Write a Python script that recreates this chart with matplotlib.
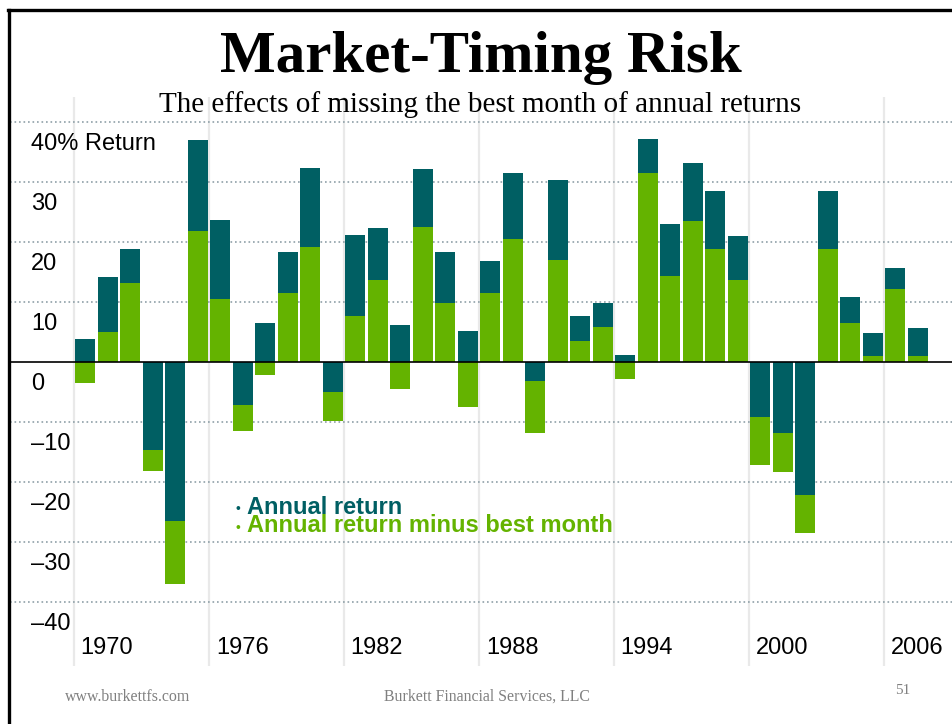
import matplotlib
matplotlib.use("Agg")
import matplotlib.pyplot as plt
import numpy as np
from matplotlib.lines import Line2D

# ---- data ----
years = list(range(1970, 2008))
annual_return = [3.9, 14.2, 18.9, -14.7, -26.4, 37.1, 23.7, -7.1, 6.6, 18.4,
                 32.4, -4.9, 21.2, 22.4, 6.2, 32.2, 18.4, 5.2, 16.9, 31.6,
                 -3.1, 30.4, 7.7, 9.9, 1.2, 37.2, 23.1, 33.2, 28.6, 21.1,
                 -9.1, -11.8, -22.1, 28.6, 10.9, 4.9, 15.7, 5.7]
minus_best_month = [-3.4, 5.1, 13.2, -18.1, -36.9, 21.9, 10.6, -11.4, -2.1, 11.6,
                    19.2, -9.8, 7.7, 13.7, -4.4, 22.6, 9.9, -7.4, 11.6, 20.6,
                    -11.8, 17.1, 3.6, 5.9, -2.8, 31.6, 14.4, 23.6, 18.9, 13.7,
                    -17.1, -18.3, -28.4, 18.9, 6.6, 1.1, 12.2, 1.1]
year_labels = [1970, 1976, 1982, 1988, 1994, 2000, 2006]
y_grid = [40, 30, 20, 10, -10, -20, -30, -40]
y_labels = ["40% Return", "30", "20", "10", "0", "\u201310", "\u201320", "\u201330", "\u201340"]
y_label_vals = [40, 30, 20, 10, 0, -10, -20, -30, -40]

TEAL = "#005F63"
GREEN = "#64B300"

W, H = 953, 724
fig = plt.figure(figsize=(W / 100, H / 100), dpi=100)
ax = fig.add_axes([0, 0, 1, 1])

# pixel mapping: year 1970 center at x=85, 22.5 px per year; value 0 at y=362.3, 6 px per unit
px_per_year = 22.5
x0_year = 1970 - 85 / px_per_year
x1_year = 1970 + (W - 85) / px_per_year
y_top = 362.3 / 6
y_bot = -(H - 362.3) / 6
ax.set_xlim(x0_year, x1_year)
ax.set_ylim(y_bot, y_top)
ax.axis("off")

def xpix(px):
    return 1970 + (px - 85) / px_per_year

def ypix(py):
    return (362.3 - py) / 6

# vertical light gray lines
for yl in year_labels:
    ax.plot([yl - 0.5, yl - 0.5], [ypix(97), ypix(666)], color="#e9e9e9", lw=1.6, zorder=0.5,
            solid_capstyle="butt")

# horizontal dotted gridlines
for g in y_grid:
    ax.plot([xpix(10), xpix(W)], [g, g], color="#8fa0a8", lw=1.2,
            linestyle=(0, (1, 1.7)), zorder=1)

yrs = np.array(years)
ann = np.array(annual_return)
mbm = np.array(minus_best_month)
bw = 20 / px_per_year
neg = mbm < 0
ax.bar(yrs[neg], mbm[neg], width=bw, color=GREEN, zorder=2, linewidth=0)
ax.bar(yrs, ann, width=bw, color=TEAL, zorder=3, linewidth=0)
ax.bar(yrs[~neg], mbm[~neg], width=bw, color=GREEN, zorder=4, linewidth=0)

# zero line
ax.plot([xpix(10), xpix(W)], [0, 0], color="black", lw=1.2, zorder=5)

# y labels
for v, t in zip(y_label_vals, y_labels):
    ax.text(xpix(31), v - 22 / 6, t, ha="left", va="center", fontsize=17,
            family="Liberation Sans", color="black", zorder=6)

# year labels
for yl in year_labels:
    ax.text(yl - 0.5 + 7 / px_per_year, ypix(648), str(yl), ha="left", va="center",
            fontsize=17, family="Liberation Sans", color="black", zorder=6)

# legend
ax.text(xpix(235), ypix(509), "\u2022", ha="left", va="center", fontsize=10,
        color=TEAL, family="Liberation Sans", zorder=6)
ax.text(xpix(247), ypix(507), "Annual return", ha="left", va="center", fontsize=17,
        fontweight="bold", color=TEAL, family="Liberation Sans", zorder=6)
ax.text(xpix(235), ypix(528), "\u2022", ha="left", va="center", fontsize=10,
        color=GREEN, family="Liberation Sans", zorder=6)
ax.text(xpix(247), ypix(526), "Annual return minus best month", ha="left", va="center",
        fontsize=17, fontweight="bold", color=GREEN, family="Liberation Sans", zorder=6)

# titles
fig.text(481 / W, 1 - 58 / H, "Market-Timing Risk", ha="center", va="center",
         fontsize=42.5, fontweight="bold", family="Liberation Serif")
fig.text(480 / W, 1 - 105 / H, "The effects of missing the best month of annual returns",
         ha="center", va="center", fontsize=21, family="Liberation Serif")

# footer
fig.text(65 / W, 1 - 697 / H, "www.burkettfs.com", ha="left", va="center",
         fontsize=11.4, color="#808080", family="Liberation Serif")
fig.text(487 / W, 1 - 697 / H, "Burkett Financial Services, LLC", ha="center", va="center",
         fontsize=11.4, color="#808080", family="Liberation Serif")
fig.text(903 / W, 1 - 690 / H, "51", ha="center", va="center",
         fontsize=11, color="#808080", family="Liberation Serif")

# slide border (top and left)
fig.add_artist(Line2D([8 / W, 1], [1 - 10 / H, 1 - 10 / H], color="black", lw=2.4,
                      transform=fig.transFigure))
fig.add_artist(Line2D([9 / W, 9 / W], [1 - 10 / H, 0], color="black", lw=2.4,
                      transform=fig.transFigure))

fig.savefig("out.png", dpi=100)
